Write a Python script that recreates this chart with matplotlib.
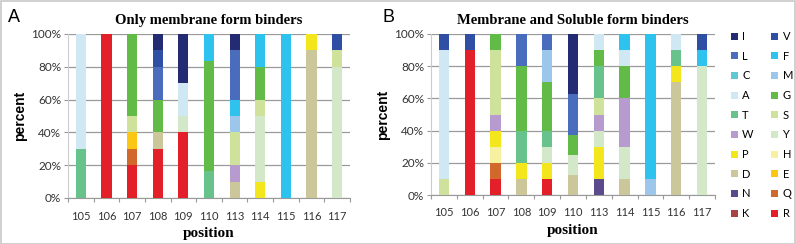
import matplotlib
matplotlib.use("Agg")
import matplotlib.pyplot as plt
from matplotlib.patches import Rectangle
import numpy as np

positions = ["105", "106", "107", "108", "109", "110", "113", "114", "115", "116", "117"]
# legend order (row-major, two columns)
residues = ["I", "V", "L", "F", "C", "M", "A", "G", "T", "S",
            "W", "Y", "P", "H", "D", "E", "N", "Q", "K", "R"]
residue_colors = {
    "I": "#232b73", "V": "#2f4fa5", "L": "#4a6cbc", "F": "#2ec2ee",
    "C": "#5ec8d3", "M": "#9cc6ea", "A": "#cfe8f3", "G": "#62bb47",
    "T": "#67c28c", "S": "#cfe29b", "W": "#b79bcf", "Y": "#d3e8c9",
    "P": "#f4e61c", "H": "#f6f0a0", "D": "#cbc79a", "E": "#fcc714",
    "N": "#5b4a8c", "Q": "#d0692b", "K": "#a84444", "R": "#e3202a",
}

# Panel A: only membrane form binders (percent)
membrane_only = {
    "I": [0, 0, 0, 10, 30, 0, 10, 0, 0, 0, 0],
    "V": [0, 0, 0, 10, 0, 0, 0, 0, 0, 0, 10],
    "L": [0, 0, 0, 20, 0, 0, 30, 0, 0, 0, 0],
    "F": [0, 0, 0, 0, 0, 16.7, 10, 20, 100, 0, 0],
    "C": [0, 0, 0, 0, 0, 0, 0, 0, 0, 0, 0],
    "M": [0, 0, 0, 0, 0, 0, 10, 0, 0, 0, 0],
    "A": [70, 0, 0, 0, 20, 0, 0, 0, 0, 0, 0],
    "G": [0, 0, 50, 20, 0, 66.6, 0, 20, 0, 0, 0],
    "T": [30, 0, 0, 0, 0, 16.7, 0, 0, 0, 0, 0],
    "S": [0, 0, 10, 0, 0, 0, 20, 10, 0, 0, 10],
    "W": [0, 0, 0, 0, 0, 0, 10, 0, 0, 0, 0],
    "Y": [0, 0, 0, 0, 10, 0, 0, 40, 0, 0, 80],
    "P": [0, 0, 0, 0, 0, 0, 0, 10, 0, 10, 0],
    "H": [0, 0, 0, 0, 0, 0, 0, 0, 0, 0, 0],
    "D": [0, 0, 0, 10, 0, 0, 10, 0, 0, 90, 0],
    "E": [0, 0, 10, 0, 0, 0, 0, 0, 0, 0, 0],
    "N": [0, 0, 0, 0, 0, 0, 0, 0, 0, 0, 0],
    "Q": [0, 0, 10, 0, 0, 0, 0, 0, 0, 0, 0],
    "K": [0, 0, 0, 0, 0, 0, 0, 0, 0, 0, 0],
    "R": [0, 100, 20, 30, 40, 0, 0, 0, 0, 0, 0],
}

# Panel B: membrane and soluble form binders (percent)
membrane_soluble = {
    "I": [0, 0, 0, 0, 0, 37.5, 0, 0, 0, 0, 0],
    "V": [10, 10, 0, 0, 0, 0, 0, 0, 0, 0, 10],
    "L": [0, 0, 0, 20, 10, 25, 0, 0, 0, 0, 0],
    "F": [0, 0, 0, 0, 0, 0, 0, 10, 90, 0, 10],
    "C": [0, 0, 0, 0, 0, 0, 0, 0, 0, 0, 0],
    "M": [0, 0, 0, 0, 20, 0, 0, 0, 10, 0, 0],
    "A": [80, 0, 0, 0, 0, 0, 10, 10, 0, 10, 0],
    "G": [0, 0, 10, 40, 30, 12.5, 10, 20, 0, 0, 0],
    "T": [0, 0, 0, 20, 10, 0, 20, 0, 0, 10, 0],
    "S": [10, 0, 40, 0, 0, 0, 10, 0, 0, 0, 0],
    "W": [0, 0, 10, 0, 0, 0, 10, 30, 0, 0, 0],
    "Y": [0, 0, 0, 0, 10, 12.5, 10, 20, 0, 0, 80],
    "P": [0, 0, 10, 10, 10, 0, 20, 0, 0, 10, 0],
    "H": [0, 0, 10, 0, 0, 0, 0, 0, 0, 0, 0],
    "D": [0, 0, 0, 10, 0, 12.5, 0, 10, 0, 70, 0],
    "E": [0, 0, 0, 0, 0, 0, 0, 0, 0, 0, 0],
    "N": [0, 0, 0, 0, 0, 0, 10, 0, 0, 0, 0],
    "Q": [0, 0, 10, 0, 0, 0, 0, 0, 0, 0, 0],
    "K": [0, 0, 0, 0, 0, 0, 0, 0, 0, 0, 0],
    "R": [0, 90, 10, 0, 10, 0, 0, 0, 0, 0, 0],
}

titles = ["Only membrane form binders", "Membrane and Soluble form binders"]

TICK_FONT = "Lato"
fig = plt.figure(figsize=(7.96, 2.44), dpi=100)
W, H = 796, 244


def ax_rect(x0, x1, ytop, ybot):
    return [x0 / W, (H - ybot) / H, (x1 - x0) / W, (ybot - ytop) / H]


axA = fig.add_axes(ax_rect(68, 350, 34, 198))
axB = fig.add_axes(ax_rect(431, 715, 34, 195))

handles = {}
for ax, data, title in [(axA, membrane_only, titles[0]), (axB, membrane_soluble, titles[1])]:
    x = np.arange(len(positions))
    bottom = np.zeros(len(positions))
    for res in residues[::-1]:  # R at bottom, I at top
        vals = np.array(data[res], dtype=float)
        bars = ax.bar(x, vals, bottom=bottom, width=0.4, color=residue_colors[res],
                      linewidth=0, zorder=3, label=res)
        handles[res] = bars
        bottom += vals
    ax.set_xlim(-0.5, len(positions) - 0.5)
    ax.set_ylim(0, 100)
    ax.set_yticks([0, 20, 40, 60, 80, 100])
    ax.set_yticklabels(["0%", "20%", "40%", "60%", "80%", "100%"],
                       family=TICK_FONT, fontsize=8.5, color="#333333")
    ax.set_xticks(x)
    ax.set_xticklabels(positions, family=TICK_FONT, fontsize=8, color="#333333")
    ax.set_xticks(np.arange(-0.5, len(positions), 1), minor=True)
    ax.tick_params(axis="x", which="major", length=0, pad=9)
    ax.tick_params(axis="x", which="minor", length=3, color="#999999", width=0.8)
    ax.tick_params(axis="y", length=3, color="#999999", width=0.8, pad=2)
    ax.grid(axis="y", color="#9a9a9a", linewidth=0.9, zorder=0)
    for s in ["top", "right"]:
        ax.spines[s].set_visible(False)
    ax.spines["left"].set_color("#cccccc")
    ax.spines["bottom"].set_color("#999999")
    ax.set_title(title, family="Liberation Serif", fontweight="bold", fontsize=10.5, pad=7)
    ax.set_ylabel("percent", family="Liberation Sans", fontweight="bold", fontsize=10, labelpad=3)
    ax.set_xlabel("position", family="Liberation Serif", fontweight="bold", fontsize=11, labelpad=4)

fig.text(8 / W, 1 - 17 / H, "A", family="Liberation Sans", fontsize=13, va="center")
fig.text(382 / W, 1 - 17 / H, "B", family="Liberation Sans", fontsize=13, va="center")

# legend: row-major order in 2 columns -> reorder to column-major
col1 = residues[0::2]
col2 = residues[1::2]
order = col1 + col2
leg = fig.legend([handles[r] for r in order], order, ncol=2,
                 loc="upper left", bbox_to_anchor=(731 / W, 1 - 31 / H),
                 frameon=False, prop={"family": TICK_FONT, "size": 8},
                 handlelength=0.6, handleheight=0.6, handletextpad=0.4,
                 labelspacing=0.78, columnspacing=1.6, borderaxespad=0, borderpad=0)

# outer frame
fig.add_artist(Rectangle((0.5 / W, 0.5 / H), 1 - 1.5 / W, 1 - 1.5 / H,
                         transform=fig.transFigure, fill=False,
                         edgecolor="#c8c8c8", linewidth=1.2))

fig.savefig("out.png", dpi=100)
